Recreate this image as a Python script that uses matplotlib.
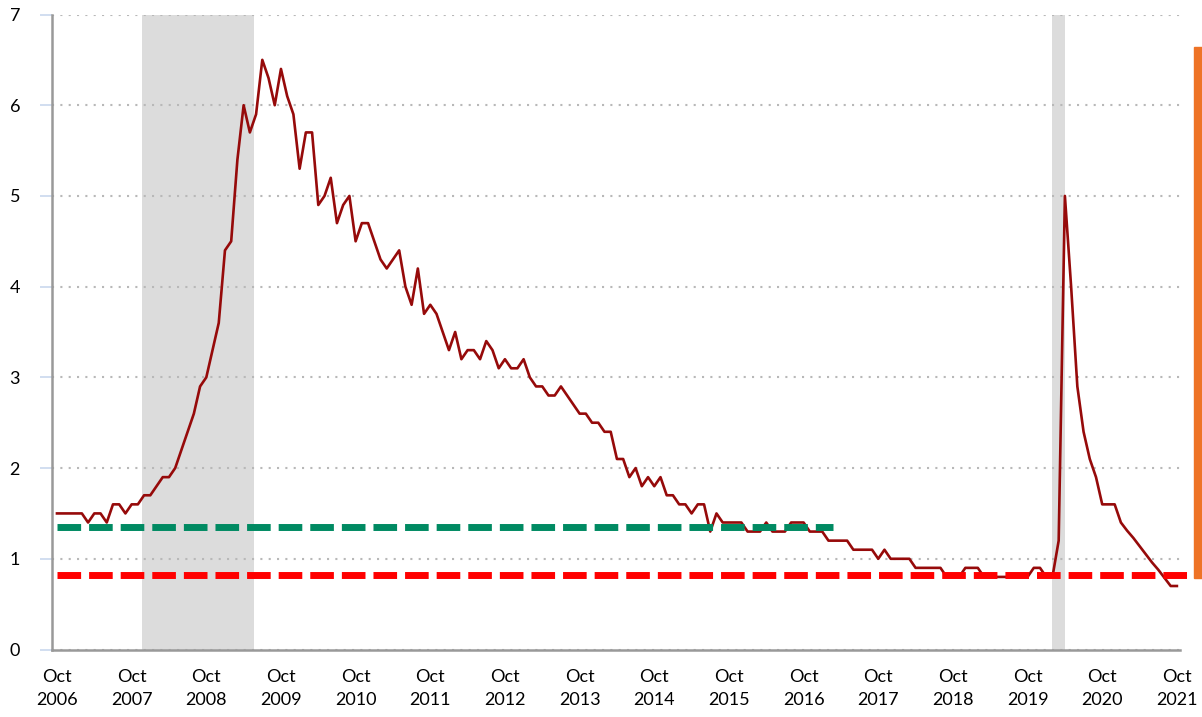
import matplotlib
matplotlib.use("Agg")
import matplotlib.pyplot as plt
from matplotlib.patches import Rectangle

# monthly values, Oct 2006 .. Oct 2021
ratio = [
    1.5, 1.5, 1.5,
    1.5, 1.5, 1.4, 1.5, 1.5, 1.4, 1.6, 1.6, 1.5, 1.6, 1.6, 1.7,
    1.7, 1.8, 1.9, 1.9, 2.0, 2.2, 2.4, 2.6, 2.9, 3.0, 3.3, 3.6,
    4.4, 4.5, 5.4, 6.0, 5.7, 5.9, 6.5, 6.3, 6.0, 6.4, 6.1, 5.9,
    5.3, 5.7, 5.7, 4.9, 5.0, 5.2, 4.7, 4.9, 5.0, 4.5, 4.7, 4.7,
    4.5, 4.3, 4.2, 4.3, 4.4, 4.0, 3.8, 4.2, 3.7, 3.8, 3.7, 3.5,
    3.3, 3.5, 3.2, 3.3, 3.3, 3.2, 3.4, 3.3, 3.1, 3.2, 3.1, 3.1,
    3.2, 3.0, 2.9, 2.9, 2.8, 2.8, 2.9, 2.8, 2.7, 2.6, 2.6, 2.5,
    2.5, 2.4, 2.4, 2.1, 2.1, 1.9, 2.0, 1.8, 1.9, 1.8, 1.9, 1.7,
    1.7, 1.6, 1.6, 1.5, 1.6, 1.6, 1.3, 1.5, 1.4, 1.4, 1.4, 1.4,
    1.3, 1.3, 1.3, 1.4, 1.3, 1.3, 1.3, 1.4, 1.4, 1.4, 1.3, 1.3,
    1.3, 1.2, 1.2, 1.2, 1.2, 1.1, 1.1, 1.1, 1.1, 1.0, 1.1, 1.0,
    1.0, 1.0, 1.0, 0.9, 0.9, 0.9, 0.9, 0.9, 0.8, 0.8, 0.8, 0.9,
    0.9, 0.9, 0.8, 0.8, 0.8, 0.8, 0.8, 0.8, 0.8, 0.8, 0.9, 0.9,
    0.8, 0.8, 1.2, 5.0, 4.0, 2.9, 2.4, 2.1, 1.9, 1.6, 1.6, 1.6,
    1.4, 1.31, 1.23, 1.14, 1.05, 0.96, 0.88, 0.79, 0.7, 0.7,
]
months = list(range(len(ratio)))

years = list(range(2006, 2022))
tick_pos = [12 * i for i in range(len(years))]
tick_labels = ["Oct\n%d" % y for y in years]

# shaded periods (month index)
shade = [(13.7, 31.7), (159.9, 162.0)]

green_level = 1.35
green_end = 124.8
red_level = 0.82
red_end = 182.9

plt.rcParams['font.family'] = ['Lato', 'DejaVu Sans']

fig = plt.figure(figsize=(12.02, 7.17), dpi=100)
ax = fig.add_axes([52 / 1202, 1 - 649.5 / 717, (1180 - 52) / 1202, (649.5 - 14.5) / 717])

for a, b in shade:
    ax.axvspan(a, b, color='#dcdcdc', lw=0, zorder=0)

ax.plot(months, ratio, color='#960a0a', lw=1.9, zorder=3)

ax.plot([0, green_end], [green_level, green_level], color='#008a62', lw=5.0,
        dashes=(3.4, 1.15), zorder=4)
ax.plot([0, red_end], [red_level, red_level], color='#ff0000', lw=5.0,
        dashes=(3.4, 1.15), zorder=4, clip_on=False)

ax.set_xlim(-0.8, 180.5)
ax.set_ylim(0, 7)
ax.set_yticks(range(0, 8))
ax.set_xticks(tick_pos)
ax.set_xticklabels(tick_labels, linespacing=1.55)

ax.grid(axis='y', color='#b8b8b8', linestyle=(0, (1, 3)), lw=1.5)
ax.set_axisbelow(True)

for s in ['top', 'right']:
    ax.spines[s].set_visible(False)
for s in ['left', 'bottom']:
    ax.spines[s].set_color('#999999')
    ax.spines[s].set_linewidth(1.8)

ax.tick_params(axis='y', length=9, width=1.2, color='#c9d8ee', pad=14, labelsize=13)
ax.tick_params(axis='x', length=0, pad=14, labelsize=13)

# orange edge at right
fig.patches.append(Rectangle((1194 / 1202, 1 - 578 / 717), 9 / 1202, (578 - 47) / 717,
                             transform=fig.transFigure, color='#ee7326', zorder=5))

plt.savefig('out.png', dpi=100)
